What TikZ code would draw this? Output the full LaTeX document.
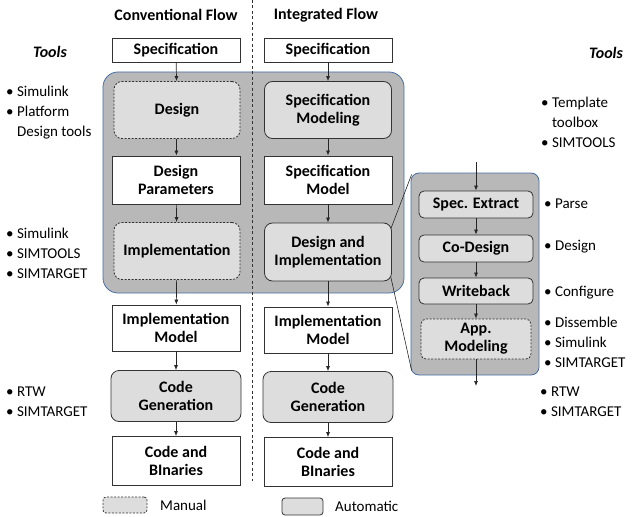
\documentclass[tikz,border=0pt]{standalone}
\usepackage{fontspec}
\setmainfont{Carlito}
\definecolor{PanelGray}{RGB}{184, 184, 184}
\definecolor{BoxGray}{RGB}{221, 221, 221}
\definecolor{EdgeBlue}{RGB}{72, 110, 165}
\usetikzlibrary{arrows.meta, positioning}

\begin{document}
\begin{tikzpicture}[
        x=1pt, y=-1pt,
        box/.style={draw=black!80, fill=white, line width=0.8pt, rectangle, minimum width=128pt, minimum height=24pt, inner sep=1pt, align=center, font=\bfseries\fontsize{16}{18}\selectfont},
        auto/.style={box, fill=BoxGray, rounded corners=8pt},
        manual/.style={auto, dashed, dash pattern=on 2pt off 1.5pt},
        region/.style={draw=EdgeBlue, fill=PanelGray, line width=0.8pt, rectangle, rounded corners=15pt, inner sep=0pt},
        arrow/.style={-{Latex[length=5pt, width=4pt]}, line width=0.7pt, black!85},
        tool/.style={align=left, inner sep=0pt, font=\fontsize{15}{20}\selectfont},
        head/.style={inner sep=0pt, font=\bfseries\fontsize{16}{18}\selectfont}
      ]
        \useasboundingbox (0,0) rectangle (636,516);

        % gray region and zoom panel
        \node (zone) [region, minimum width=301pt, minimum height=221pt] at (253.5,182.5) {};
        \node (panel) [region, rounded corners=8pt, minimum width=128pt, minimum height=202pt] at (475,274) {};

        \draw [dashed, line width=0.7pt, dash pattern=on 3pt off 2.5pt, black!80] (252,0) -- (252,481);

        % headers
        \node (hconv) [head] at (176,15) {Conventional Flow};
        \node (hint) [head] at (326,15) {Integrated Flow};

        % conventional flow
        \node (c1) [box] at (176,50) {Specification};
        \node (c2) [manual, minimum width=126pt, minimum height=57pt] at (177,110) {Design};
        \node (c3) [box, minimum height=48pt] at (176,180) {Design\\Parameters};
        \node (c4) [manual, minimum width=126pt, minimum height=57pt] at (177,251) {Implementation};
        \node (c5) [box, minimum height=46pt] at (176,328) {Implementation\\Model};
        \node (c6) [auto, minimum width=130pt, minimum height=51pt] at (176,396) {Code\\Generation};
        \node (c7) [box, minimum height=49pt] at (176,461) {Code and\\BInaries};

        % integrated flow
        \node (i1) [box] at (328,50) {Specification};
        \node (i2) [auto, minimum width=127pt, minimum height=57pt] at (328,110) {Specification\\Modeling};
        \node (i3) [box, minimum height=48pt] at (328,180) {Specification\\Model};
        \node (i4) [auto, minimum width=127pt, minimum height=58pt] at (328,252) {Design and\\Implementation};
        \node (i5) [box, minimum height=46pt] at (328,330) {Implementation\\Model};
        \node (i6) [auto, minimum width=130pt, minimum height=51pt] at (328,397) {Code\\Generation};
        \node (i7) [box, minimum height=49pt] at (328,462) {Code and\\BInaries};

        % zoomed steps
        \node (z1) [auto, rounded corners=5pt, minimum width=114pt, minimum height=27pt] at (476,204.5) {Spec. Extract};
        \node (z2) [auto, rounded corners=5pt, minimum width=114pt, minimum height=27pt] at (476,248.5) {Co-Design};
        \node (z3) [auto, rounded corners=5pt, minimum width=114pt, minimum height=26pt] at (476,291) {Writeback};
        \node (z4) [manual, rounded corners=5pt, minimum width=110pt, minimum height=40pt] at (476,339) {App.\\Modeling};
        \coordinate (zin) at (476,162);
        \coordinate (zout) at (476,386);

        \draw [arrow] (c1) -- (c2);
        \draw [arrow] (c2) -- (c3);
        \draw [arrow] (c3) -- (c4);
        \draw [arrow] (c4) -- (c5);
        \draw [arrow] (c5) -- (c6);
        \draw [arrow] (c6) -- (c7);

        \draw [arrow] (i1) -- (i2);
        \draw [arrow] (i2) -- (i3);
        \draw [arrow] (i3) -- (i4);
        \draw [arrow] (i4) -- (i5);
        \draw [arrow] (i5) -- (i6);
        \draw [arrow] (i6) -- (i7);

        \draw [arrow] (zin) -- (z1);
        \draw [arrow] (z1) -- (z2);
        \draw [arrow] (z2) -- (z3);
        \draw [arrow] (z3) -- (z4);
        \draw [arrow] (z4) -- (zout);

        % zoom lines
        \draw [line width=0.6pt, black!85] ([xshift=-1pt, yshift=-6pt]i4.north east) -- ([xshift=1pt, yshift=-2pt]panel.north west);
        \draw [line width=0.6pt, black!85] ([xshift=-1pt, yshift=4pt]i4.south east) -- ([xshift=1pt, yshift=5pt]panel.south west);

        % tools
        \node (tl) [head, font=\bfseries\itshape\fontsize{16}{18}\selectfont] at (50,52) {Tools};
        \node (tl1) [tool, anchor=west] at (6,113) {• Simulink\\• Platform\\\phantom{• }Design tools};
        \node (tl2) [tool, anchor=west] at (6,253) {• Simulink\\• SIMTOOLS\\• SIMTARGET};
        \node (tl3) [tool, anchor=west] at (6,402) {• RTW\\• SIMTARGET};

        \node (tr) [head, font=\bfseries\itshape\fontsize{16}{18}\selectfont] at (606,53) {Tools};
        \node (tr1) [tool, anchor=west] at (541,122) {• Template\\\phantom{• }toolbox\\• SIMTOOLS};
        \node (tr2) [tool, anchor=west] at (544,204) {• Parse};
        \node (tr3) [tool, anchor=west] at (544,247) {• Design};
        \node (tr4) [tool, anchor=west] at (544,293) {• Configure};
        \node (tr5) [tool, anchor=west] at (544,342) {• Dissemble\\• Simulink\\• SIMTARGET};
        \node (tr6) [tool, anchor=west] at (540,402) {• RTW\\• SIMTARGET};

        % legend
        \node (lman) [manual, rounded corners=3pt, minimum width=44pt, minimum height=16pt] at (125,505) {};
        \node (lmant) [tool, anchor=west] at (160,505) {Manual};
        \node (laut) [auto, rounded corners=3pt, minimum width=41pt, minimum height=17pt] at (302.5,506.5) {};
        \node (lautt) [tool, anchor=west] at (335,506) {Automatic};
      \end{tikzpicture}
\end{document}
